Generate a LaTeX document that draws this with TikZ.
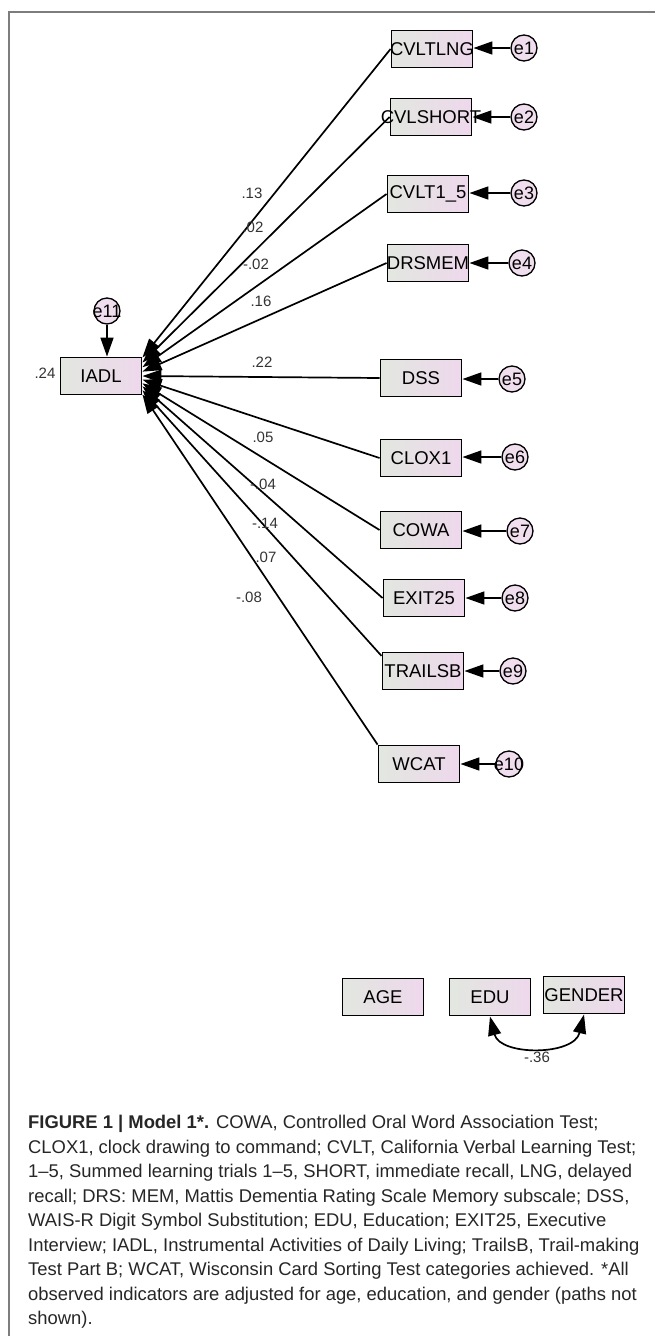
\documentclass[tikz,border=0pt]{standalone}
\usepackage{fontspec}
\setmainfont{Liberation Sans}
\usetikzlibrary{arrows.meta}

\definecolor{boxleft}{RGB}{226,231,224}
\definecolor{boxright}{RGB}{238,216,236}
\definecolor{errfill}{RGB}{240,222,238}
\definecolor{framegray}{RGB}{125,125,125}

\newcommand{\nm}[1]{\makebox[0pt]{#1}}

\tikzset{
	obs/.style={draw, line width=1.9pt, left color=boxleft, right color=boxright,
		minimum width=81pt, minimum height=37pt, inner sep=0pt, font=\fontsize{18.5}{18.5}\selectfont},
	err/.style={draw, circle, line width=1.3pt, fill=errfill, minimum size=26pt,
		inner sep=0pt, font=\fontsize{18}{18}\selectfont},
	coef/.style={inner sep=0pt, text=black!80, font=\fontsize{15}{15}\selectfont},
	arr/.style={line width=1.7pt, -{Triangle[length=19pt,width=13pt]}}
}

\begin{document}
\begin{tikzpicture}[x=1pt, y=-1pt]
		\useasboundingbox (0,0) rectangle (655,1336);

		% Marco de la figura
		\draw[framegray, line width=1.5pt] (9,1336) -- (9,12) -- (655,12);

		% Variable dependiente
		\node[obs] (iadl) at (101,376) {IADL};
		\node[err] (e11) at (107,311) {\nm{e11}};
		\node[coef] (r2) at (45,373) {.24};
		\draw[arr] (e11) -- (e11 |- iadl.north);

		% Indicadores observados
		\node[obs] (cvltlng) at (432,49) {\nm{CVLTLNG}};
		\node[obs] (cvlshort) at (431,117) {\nm{CVLSHORT}};
		\node[obs] (cvlt15) at (428,194) {\nm{CVLT1\_5}};
		\node[obs] (drsmem) at (428,263) {\nm{DRSMEM}};
		\node[obs] (dss) at (421,378) {DSS};
		\node[obs] (clox) at (421,458) {CLOX1};
		\node[obs] (cowa) at (421,530) {COWA};
		\node[obs] (exit) at (424,598) {EXIT25};
		\node[obs] (trailsb) at (423,671) {\nm{TRAILSB}};
		\node[obs] (wcat) at (419,764) {WCAT};

		% Errores
		\node[err] (e1) at (524,48) {e1};
		\node[err] (e2) at (524,117) {e2};
		\node[err] (e3) at (524,193) {e3};
		\node[err] (e4) at (522,263) {e4};
		\node[err] (e5) at (512,379) {e5};
		\node[err] (e6) at (515,457) {e6};
		\node[err] (e7) at (520,531) {e7};
		\node[err] (e8) at (515,598) {e8};
		\node[err] (e9) at (513,671) {e9};
		\node[err] (e10) at (509,764) {\nm{e10}};

		\draw[arr] (e1) -- (e1 -| cvltlng.east);
		\draw[arr] (e2) -- (e2 -| cvlshort.east);
		\draw[arr] (e3) -- (e3 -| cvlt15.east);
		\draw[arr] (e4) -- (e4 -| drsmem.east);
		\draw[arr] (e5) -- (e5 -| dss.east);
		\draw[arr] (e6) -- (e6 -| clox.east);
		\draw[arr] (e7) -- (e7 -| cowa.east);
		\draw[arr] (e8) -- (e8 -| exit.east);
		\draw[arr] (e9) -- (e9 -| trailsb.east);
		\draw[arr] (e10) -- (e10 -| wcat.east);

		% Trayectorias hacia IADL
		\draw[arr] (cvltlng.west) -- (iadl.24);
		\draw[arr] (cvlshort.west) -- (iadl.18);
		\draw[arr] (cvlt15.west) -- (iadl.12);
		\draw[arr] (drsmem.west) -- (iadl.6);
		\draw[arr] (dss.west) -- (iadl.0);
		\draw[arr] (clox.west) -- (iadl.-5);
		\draw[arr] (cowa.west) -- (iadl.-10);
		\draw[arr] (exit.west) -- (iadl.-14);
		\draw[arr] (trailsb.160) -- (iadl.-19);
		\draw[arr] (wcat.north west) -- (iadl.-24);

		% Coeficientes
		\node[coef] (c1) at (252,193) {.13};
		\node[coef] (c2) at (253,227) {.02};
		\node[coef] (c3) at (256,264) {-.02};
		\node[coef] (c4) at (261,301) {.16};
		\node[coef] (c5) at (262,362) {.22};
		\node[coef] (c6) at (263,437) {.05};
		\node[coef] (c7) at (263,484) {-.04};
		\node[coef] (c8) at (265,523) {-.14};
		\node[coef] (c9) at (266,557) {.07};
		\node[coef] (c10) at (249,597) {-.08};

		% Covariables
		\node[obs] (age) at (383,997) {AGE};
		\node[obs] (edu) at (490,997) {EDU};
		\node[obs] (gender) at (584,995) {\nm{GENDER}};
		\draw[line width=1.7pt, {Triangle[length=19pt,width=13pt]}-{Triangle[length=19pt,width=13pt]}]
			(edu.south) .. controls (500,1056) and (574,1056) .. (gender.south);
		\node[coef] (c11) at (537,1057) {-.36};

		% Leyenda
		\node[anchor=north west, inner sep=0pt, align=left, text=black!85,
			font=\fontsize{18.4}{24.5}\selectfont] (cap) at (28,1115)
			{\textbf{FIGURE 1 | Model 1*.} COWA, Controlled Oral Word Association Test;\\
			CLOX1, clock drawing to command; CVLT, California Verbal Learning Test;\\
			1--5, Summed learning trials 1--5, SHORT, immediate recall, LNG, delayed\\
			recall; DRS: MEM, Mattis Dementia Rating Scale Memory subscale; DSS,\\
			WAIS-R Digit Symbol Substitution; EDU, Education; EXIT25, Executive\\
			Interview; IADL, Instrumental Activities of Daily Living; TrailsB, Trail-making\\
			Test Part B; WCAT, Wisconsin Card Sorting Test categories achieved. *All\\
			observed indicators are adjusted for age, education, and gender (paths not\\
			shown).};
	\end{tikzpicture}
\end{document}
